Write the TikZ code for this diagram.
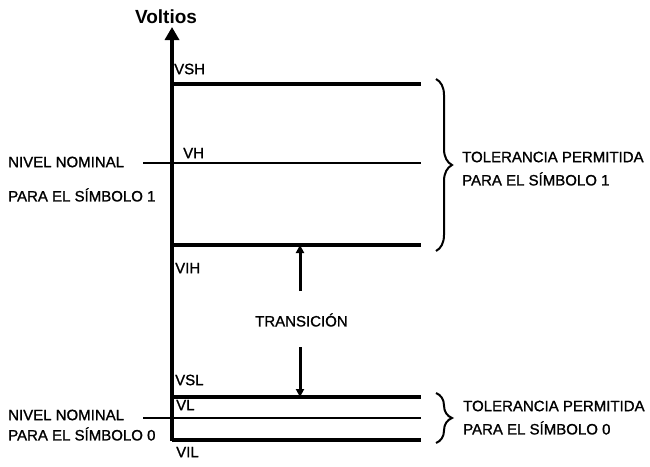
\documentclass[tikz,border=0pt]{standalone}
\usepackage{fontspec}
\setmainfont{Liberation Sans}
\newfontfamily\lblfont[FakeBold=1.2]{Liberation Sans}
\usetikzlibrary{arrows.meta,decorations.pathreplacing}
\begin{document}
\begin{tikzpicture}[x=1pt,y=-1pt,
  lbl/.style={anchor=west,inner sep=0pt,font=\lblfont\fontsize{15}{16}\selectfont},
  thickline/.style={line width=3.6pt},
  thinline/.style={line width=1.6pt},
  bracestyle/.style={line width=2pt,decorate,decoration={brace,amplitude=16pt}},
  tarrow/.style={line width=3pt,-{Triangle[length=8pt,width=8pt]}}]
\useasboundingbox (0,0) rectangle (650,466);
% axis
\coordinate (axB) at (172,441);
\coordinate (axT) at (172,27);
\draw[line width=3.6pt,-{Triangle[length=13pt,width=14pt]}] (axB) -- (axT);
\node[font=\bfseries\fontsize{19}{20}\selectfont,inner sep=0pt] (volt) at (166,17) {Voltios};
% level lines
\coordinate (vshL) at (172,84);  \coordinate (vshR) at (421,84);
\coordinate (vhL)  at (143,163); \coordinate (vhR)  at (421,163);
\coordinate (vihL) at (172,245); \coordinate (vihR) at (421,245);
\coordinate (vslL) at (172,397); \coordinate (vslR) at (421,397);
\coordinate (vlL)  at (143,418); \coordinate (vlR)  at (421,418);
\coordinate (vilL) at (172,440); \coordinate (vilR) at (421,440);
\draw[thickline] (vshL) -- (vshR);
\draw[thinline] (vhL) -- (vhR);
\draw[thickline] (vihL) -- (vihR);
\draw[thickline] (vslL) -- (vslR);
\draw[thinline] (vlL) -- (vlR);
\draw[thickline] (vilL) -- (vilR);
% level labels
\node[lbl] (tVSH) at (174,69) {VSH};
\node[lbl] (tVH) at (183,153) {VH};
\node[lbl] (tVIH) at (175,268) {VIH};
\node[lbl] (tVSL) at (175,380) {VSL};
\node[lbl] (tVL) at (176,405) {VL};
\node[lbl] (tVIL) at (176,452) {VIL};
% left texts
\node[lbl] (nn1) at (8,162) {NIVEL NOMINAL};
\node[lbl] (ps1) at (8,195) {PARA EL SÍMBOLO 1};
\node[lbl] (nn0) at (8,415) {NIVEL NOMINAL};
\node[lbl] (ps0) at (8,434) {PARA EL SÍMBOLO 0};
% transition
\node[lbl] (trans) at (255,320) {TRANSICIÓN};
\coordinate (upS) at (300,291);
\coordinate (dnS) at (300,347);
\draw[tarrow] (upS) -- (upS |- vihL);
\draw[tarrow] (dnS) -- (dnS |- vslL);
% braces
\coordinate (b1T) at (436,79);
\coordinate (b1B) at (436,251);
\draw[bracestyle] (b1T) -- (b1B);
\node[lbl] (tol1) at (462,157) {TOLERANCIA PERMITIDA};
\node[lbl] (tps1) at (462,179) {PARA EL SÍMBOLO 1};
\coordinate (b2T) at (436,393);
\coordinate (b2B) at (436,443);
\draw[bracestyle] (b2T) -- (b2B);
\node[lbl] (tol0) at (463,406) {TOLERANCIA PERMITIDA};
\node[lbl] (tps0) at (463,428) {PARA EL SÍMBOLO 0};
\end{tikzpicture}
\end{document}
